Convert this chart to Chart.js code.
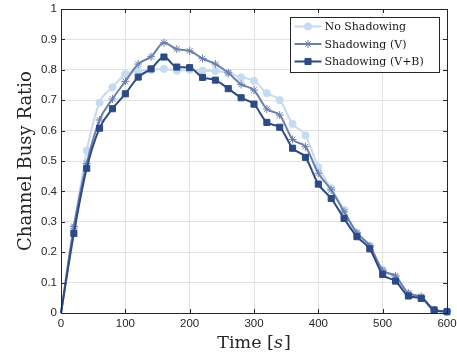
<!DOCTYPE html>
<html>
<head>
<meta charset="utf-8">
<script src="https://cdn.jsdelivr.net/npm/chart.js@4"></script>
<style>
  body { margin: 0; background: #fff; }
  #wrap { width: 457px; height: 356px; }
</style>
</head>
<body>
<div id="wrap"><canvas id="chart"></canvas></div>
<script>
// time axis, one marker every 20 s
const times = [0, 20, 40, 60, 80, 100, 120, 140, 160, 180, 200, 220, 240, 260, 280, 300,
               320, 340, 360, 380, 400, 420, 440, 460, 480, 500, 520, 540, 560, 580, 600];
const noShadowing = [0, 0.280, 0.534, 0.692, 0.742, 0.786, 0.796, 0.800, 0.803, 0.797, 0.800,
                     0.797, 0.796, 0.790, 0.775, 0.764, 0.723, 0.700, 0.622, 0.584, 0.480,
                     0.410, 0.339, 0.262, 0.220, 0.140, 0.118, 0.063, 0.052, 0.010, 0.005];
const shadowingV = [0, 0.285, 0.492, 0.635, 0.704, 0.762, 0.819, 0.843, 0.889, 0.868, 0.862,
                    0.837, 0.819, 0.790, 0.752, 0.733, 0.671, 0.651, 0.571, 0.547, 0.460,
                    0.405, 0.333, 0.264, 0.221, 0.141, 0.122, 0.065, 0.054, 0.010, 0.005];
const shadowingVB = [0, 0.262, 0.476, 0.608, 0.672, 0.721, 0.776, 0.803, 0.842, 0.809, 0.807,
                     0.775, 0.766, 0.738, 0.708, 0.687, 0.627, 0.611, 0.542, 0.512, 0.424,
                     0.377, 0.311, 0.251, 0.211, 0.127, 0.105, 0.056, 0.048, 0.010, 0.004];
const seriesNames = ['No Shadowing', 'Shadowing (V)', 'Shadowing (V+B)'];
const xTicks = [0, 100, 200, 300, 400, 500, 600];
const yTicks = [0, 0.1, 0.2, 0.3, 0.4, 0.5, 0.6, 0.7, 0.8, 0.9, 1];

const colLight = '#c6daf2';
const colMid = '#6a7fae';
const colDark = '#2c4a86';
const markers = [
  { c: colLight, s: 'circle', r: 3.6 },
  { c: colMid, s: 'star', r: 4 },
  { c: colDark, s: 'rect', r: 4.3 }
];

function toPoints(vals) {
  return times.map(function(t, i) { return { x: t, y: vals[i] }; });
}

// box round the axes, inward ticks, titles and the boxed legend
const axesBox = {
  id: 'axesBox',
  afterDraw: function(chart) {
    const ctx = chart.ctx;
    const a = chart.chartArea;
    const xs = chart.scales.x, ys = chart.scales.y;
    ctx.save();
    ctx.strokeStyle = '#262626';
    ctx.lineWidth = 1;
    ctx.beginPath();
    xTicks.forEach(function(t) {
      const px = Math.round(xs.getPixelForValue(t)) + 0.5;
      ctx.moveTo(px, a.bottom); ctx.lineTo(px, a.bottom - 4);
      ctx.moveTo(px, a.top); ctx.lineTo(px, a.top + 4);
    });
    yTicks.forEach(function(v) {
      const py = Math.round(ys.getPixelForValue(v)) + 0.5;
      ctx.moveTo(a.left, py); ctx.lineTo(a.left + 4, py);
      ctx.moveTo(a.right, py); ctx.lineTo(a.right - 4, py);
    });
    ctx.stroke();
    ctx.strokeRect(Math.round(a.left) + 0.5, Math.round(a.top) + 0.5,
                   Math.round(a.right - a.left), Math.round(a.bottom - a.top));

    // axis titles
    ctx.fillStyle = '#262626';
    ctx.textBaseline = 'alphabetic';
    const p1 = 'Time [', p2 = 's', p3 = ']';
    const fN = '17.5px "DejaVu Serif"', fI = 'italic 17.5px "DejaVu Serif"';
    ctx.font = fN; const w1 = ctx.measureText(p1).width, w3 = ctx.measureText(p3).width;
    ctx.font = fI; const w2 = ctx.measureText(p2).width + 1;
    let tx = (a.left + a.right) / 2 - (w1 + w2 + w3) / 2;
    const ty = 348;
    ctx.font = fN; ctx.fillText(p1, tx, ty);
    ctx.font = fI; ctx.fillText(p2, tx + w1, ty);
    ctx.font = fN; ctx.fillText(p3, tx + w1 + w2, ty);

    ctx.save();
    ctx.translate(31, (a.top + a.bottom) / 2);
    ctx.rotate(-Math.PI / 2);
    ctx.font = '18px "DejaVu Serif"';
    ctx.textAlign = 'center';
    ctx.fillText('Channel Busy Ratio', 0, 0);
    ctx.restore();

    // legend
    const lx = 290.5, ly = 17.5, lw = 149, lh = 55;
    ctx.fillStyle = '#fff';
    ctx.fillRect(lx, ly, lw, lh);
    ctx.strokeStyle = '#262626';
    ctx.lineWidth = 1;
    ctx.strokeRect(lx, ly, lw, lh);
    ctx.font = '11px "DejaVu Serif"';
    ctx.textBaseline = 'middle';
    seriesNames.forEach(function(name, i) {
      const cy = ly + 9 + i * 17.5;
      const m = markers[i];
      ctx.strokeStyle = m.c;
      ctx.lineWidth = 2;
      ctx.beginPath();
      ctx.moveTo(lx + 4, cy); ctx.lineTo(lx + 31, cy);
      ctx.stroke();
      ctx.fillStyle = m.c;
      ctx.lineWidth = 1;
      Chart.helpers.drawPoint(ctx, { pointStyle: m.s, radius: m.r, rotation: 0, borderWidth: 1 }, lx + 17.5, cy);
      ctx.fillStyle = '#1a1a1a';
      ctx.fillText(name, lx + 34, cy + 1);
    });
    ctx.restore();
  }
};

function makeSet(i, vals, order) {
  const m = markers[i];
  return {
    label: seriesNames[i], data: toPoints(vals),
    borderColor: m.c, backgroundColor: m.c, borderWidth: 2,
    pointStyle: m.s, pointBorderWidth: 1,
    // no marker at the origin
    pointRadius: function(c) { return c.dataIndex === 0 ? 0 : m.r; },
    cubicInterpolationMode: 'monotone', order: order, clip: 6
  };
}

new Chart(document.getElementById('chart'), {
  type: 'line',
  data: {
    datasets: [makeSet(0, noShadowing, 2), makeSet(1, shadowingV, 1), makeSet(2, shadowingVB, 0)]
  },
  options: {
    responsive: true,
    maintainAspectRatio: false,
    animation: false,
    layout: { padding: { top: 9, right: 10, left: 0, bottom: 0 } },
    plugins: { legend: { display: false }, tooltip: { enabled: false } },
    scales: {
      x: {
        type: 'linear', min: 0, max: 600,
        afterBuildTicks: function(s) { s.ticks = xTicks.map(function(v) { return { value: v }; }); },
        afterFit: function(s) { s.height = 43; s.paddingLeft = 0; s.paddingRight = 0; },
        grid: { color: '#e2e2e2', drawTicks: false },
        border: { display: false },
        ticks: { color: '#262626', padding: 4, font: { family: 'Liberation Sans', size: 11.5 } }
      },
      y: {
        min: 0, max: 1,
        afterBuildTicks: function(s) { s.ticks = yTicks.map(function(v) { return { value: v }; }); },
        afterFit: function(s) { s.width = 61; s.paddingTop = 0; s.paddingBottom = 0; },
        grid: { color: '#e2e2e2', drawTicks: false },
        border: { display: false },
        ticks: {
          color: '#262626', padding: 4, font: { family: 'Liberation Sans', size: 11.5 },
          callback: function(v) { return String(Math.round(v * 10) / 10); }
        }
      }
    }
  },
  plugins: [axesBox]
});
</script>
</body>
</html>
